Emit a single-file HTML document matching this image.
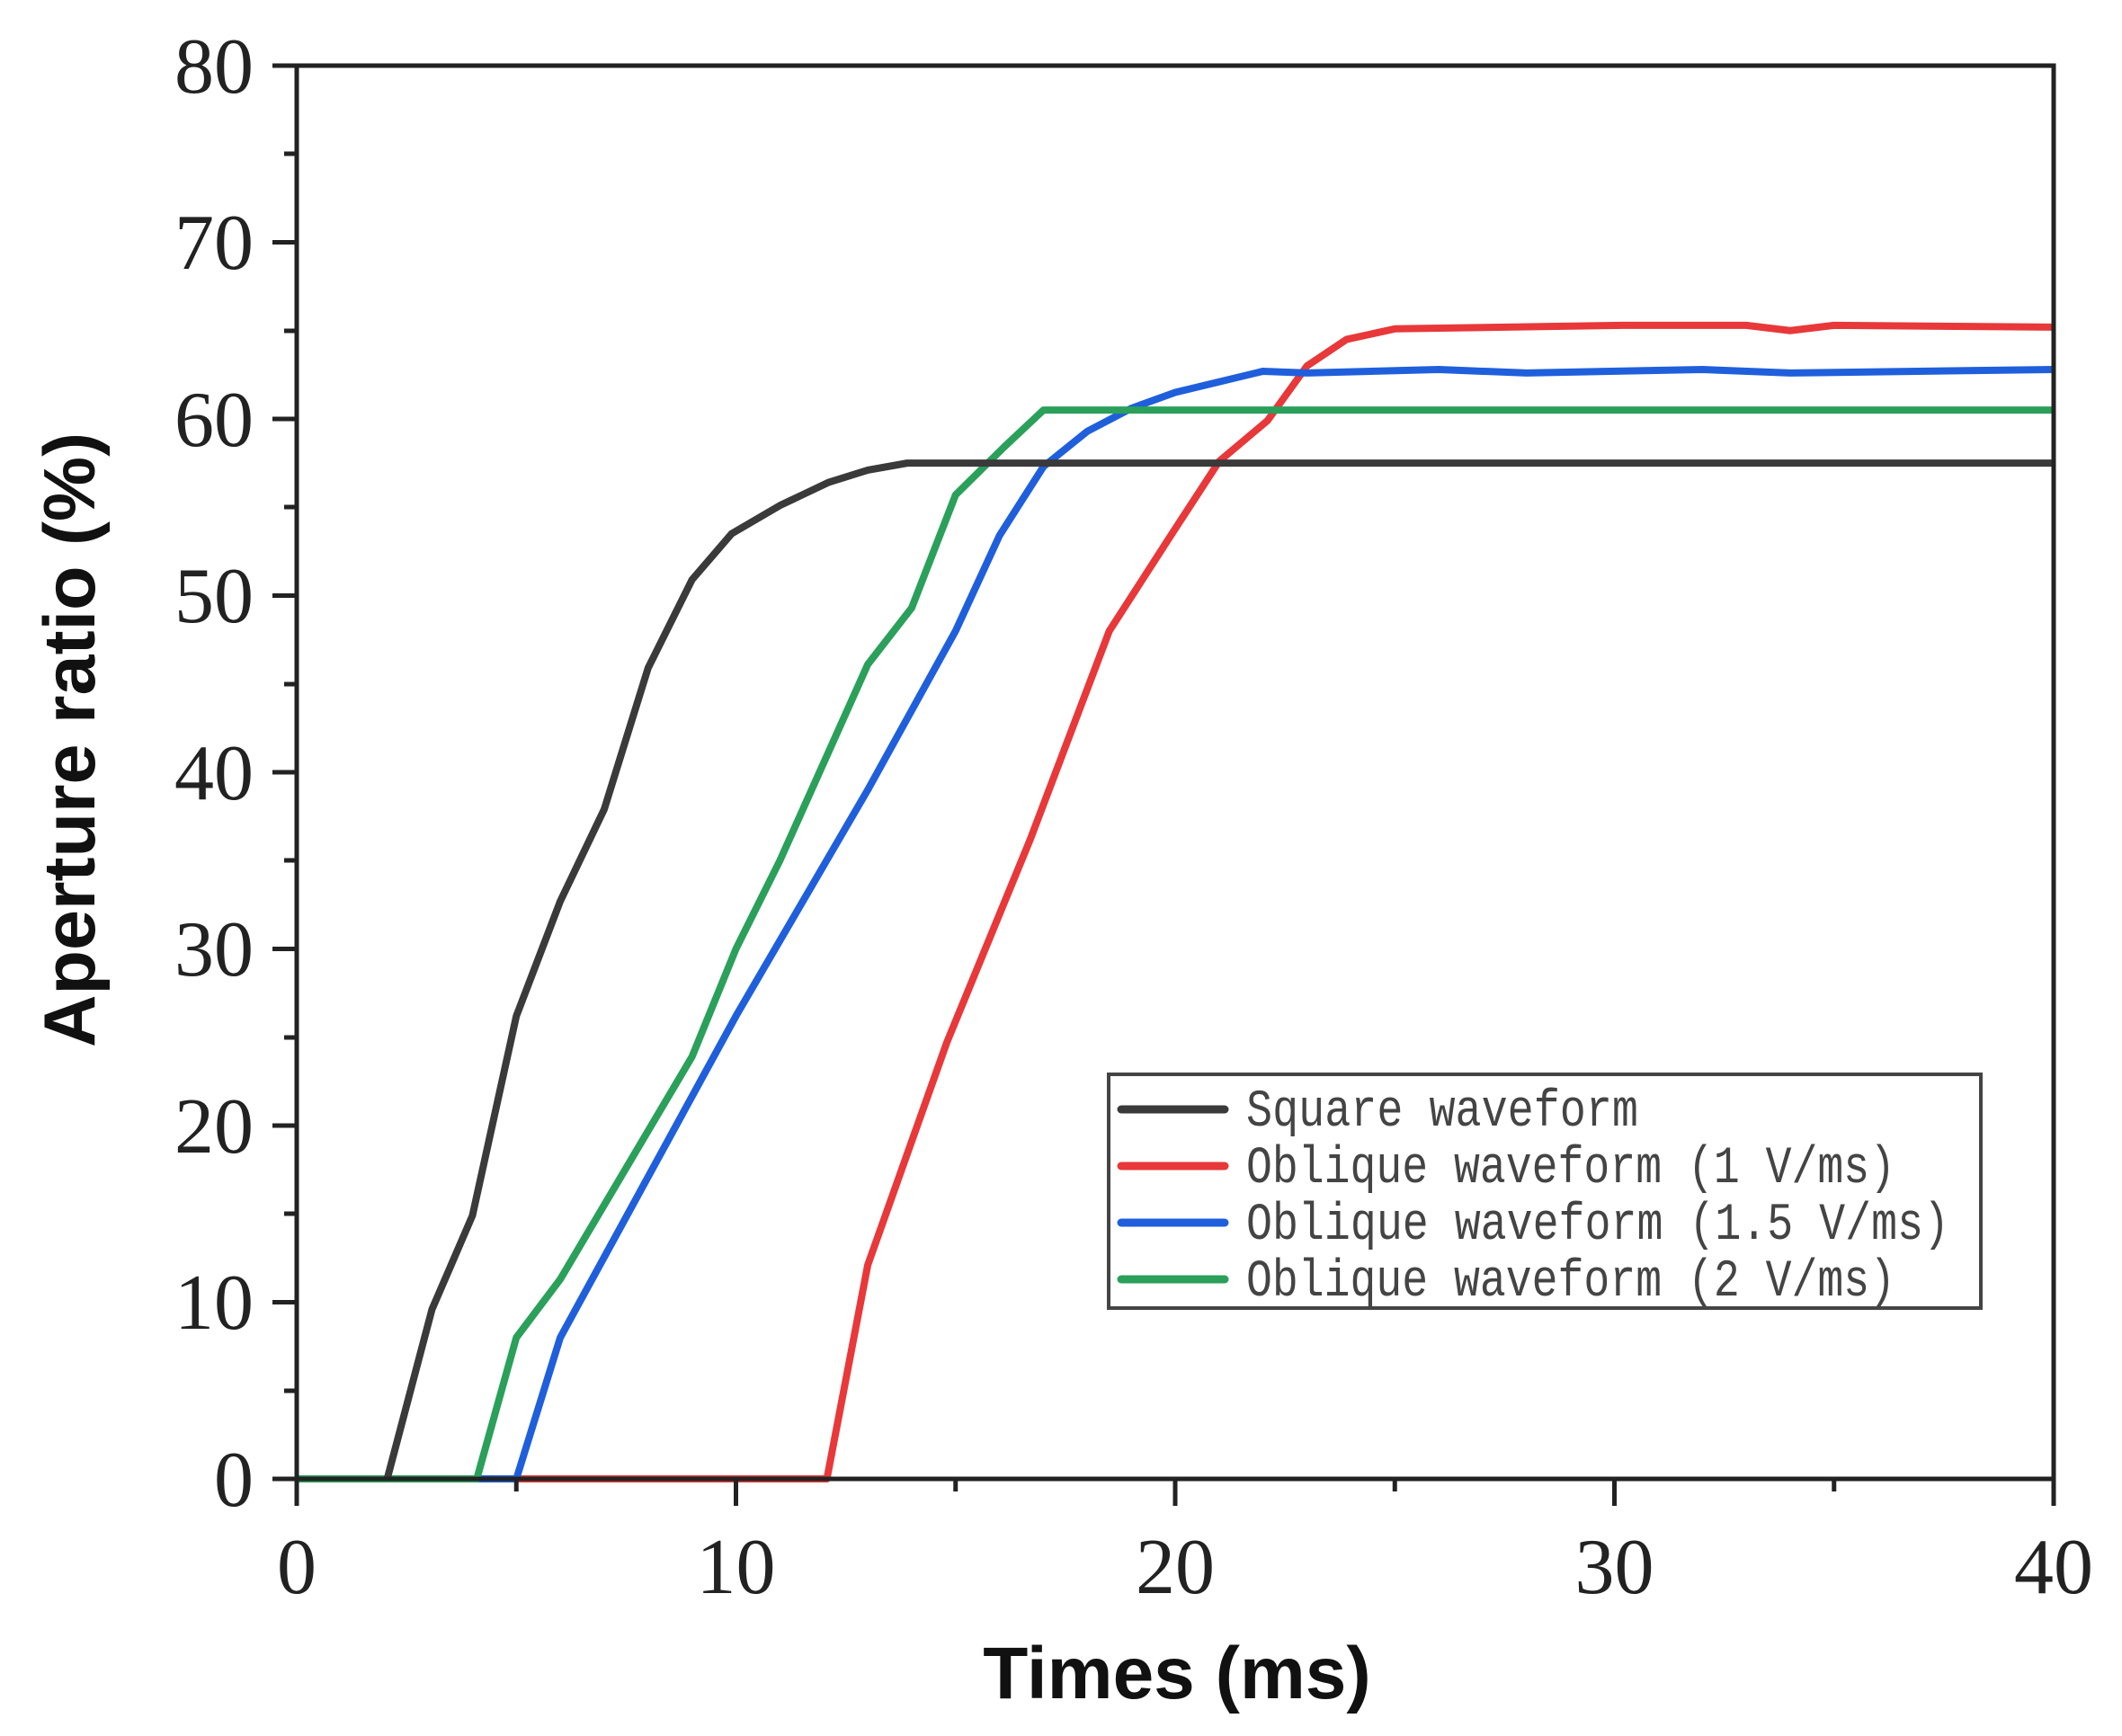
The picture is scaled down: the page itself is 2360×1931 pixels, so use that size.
<!DOCTYPE html>
<html><head><meta charset="utf-8"><style>
html,body{margin:0;padding:0;background:#fff;}
svg{display:block;}
</style></head><body>
<svg width="2360" height="1931" viewBox="0 0 2360 1931" xmlns="http://www.w3.org/2000/svg">
<rect width="2360" height="1931" fill="#fff"/>
<g transform="translate(330,1645) scale(48.85,-19.65)" fill="none" stroke-width="8" stroke-linejoin="round">
<polyline vector-effect="non-scaling-stroke" stroke="#e8383a" points="0,0 12.07,0 13,12.1 14.8,24.7 16.7,36.2 18.5,48 19.9,53.4 21,57.6 22.1,59.9 23,63 23.9,64.5 25,65.1 30.2,65.3 33,65.3 34,65 35,65.3 40,65.2"/>
<polyline vector-effect="non-scaling-stroke" stroke="#1f5fdc" points="0,0 5,0 6,8 10,26.2 13,39 15,48 16,53.4 17,57.3 18,59.3 19,60.6 20,61.5 22,62.7 23,62.6 26,62.8 28,62.6 32,62.8 34,62.6 40,62.8"/>
<polyline vector-effect="non-scaling-stroke" stroke="#2aa05a" points="0,0 4.1,0 5,8 6,11.3 8,19.7 9,23.9 10,30 11,35 12.1,41.1 13,46.1 14,49.3 15,55.7 16.1,58.4 17,60.5 40,60.5"/>
<polyline vector-effect="non-scaling-stroke" stroke="#3a3a3a" points="2.06,0 3.08,9.6 4,14.9 5,26.2 6,32.7 7,37.9 8,45.9 9,50.9 9.9,53.5 11,55.1 12.1,56.4 13,57.1 13.9,57.5 40,57.5"/>
</g>
<rect x="330" y="73" width="1954" height="1572" fill="none" stroke="#222" stroke-width="5"/>
<g stroke="#222" stroke-width="5">
<line x1="303" y1="73" x2="330" y2="73"/><line x1="303" y1="269.5" x2="330" y2="269.5"/><line x1="303" y1="466" x2="330" y2="466"/><line x1="303" y1="662.5" x2="330" y2="662.5"/><line x1="303" y1="859" x2="330" y2="859"/><line x1="303" y1="1055.5" x2="330" y2="1055.5"/><line x1="303" y1="1252" x2="330" y2="1252"/><line x1="303" y1="1448.5" x2="330" y2="1448.5"/><line x1="303" y1="1645" x2="330" y2="1645"/>
<line x1="316" y1="171" x2="330" y2="171"/><line x1="316" y1="368" x2="330" y2="368"/><line x1="316" y1="564" x2="330" y2="564"/><line x1="316" y1="761" x2="330" y2="761"/><line x1="316" y1="957" x2="330" y2="957"/><line x1="316" y1="1154" x2="330" y2="1154"/><line x1="316" y1="1350" x2="330" y2="1350"/><line x1="316" y1="1547" x2="330" y2="1547"/>
<line x1="330" y1="1645" x2="330" y2="1675"/><line x1="818.5" y1="1645" x2="818.5" y2="1675"/><line x1="1307" y1="1645" x2="1307" y2="1675"/><line x1="1795.5" y1="1645" x2="1795.5" y2="1675"/><line x1="2284" y1="1645" x2="2284" y2="1675"/>
<line x1="574.25" y1="1645" x2="574.25" y2="1659"/><line x1="1062.75" y1="1645" x2="1062.75" y2="1659"/><line x1="1551.25" y1="1645" x2="1551.25" y2="1659"/><line x1="2039.75" y1="1645" x2="2039.75" y2="1659"/>
</g>
<g font-family="'Liberation Serif',serif" font-size="88" fill="#222" text-anchor="end">
<text x="282" y="103">80</text><text x="282" y="299">70</text><text x="282" y="496">60</text><text x="282" y="692">50</text><text x="282" y="889">40</text><text x="282" y="1085">30</text><text x="282" y="1282">20</text><text x="282" y="1478">10</text><text x="282" y="1675">0</text>
</g>
<g font-family="'Liberation Serif',serif" font-size="88" fill="#222" text-anchor="middle">
<text x="330" y="1772">0</text><text x="818.5" y="1772">10</text><text x="1307" y="1772">20</text><text x="1795.5" y="1772">30</text><text x="2284" y="1772">40</text>
</g>
<text x="1309" y="1889" font-family="'Liberation Sans',sans-serif" font-weight="bold" font-size="82" text-anchor="middle" fill="#111">Times (ms)</text>
<text transform="translate(105,823) rotate(-90)" font-family="'Liberation Sans',sans-serif" font-weight="bold" font-size="81" text-anchor="middle" fill="#111">Aperture ratio (%)</text>
<rect x="1233" y="1195" width="970" height="260" fill="#fff" stroke="#444" stroke-width="4"/>
<g stroke-width="9" stroke-linecap="round">
<line x1="1247" y1="1234" x2="1362" y2="1234" stroke="#3a3a3a"/>
<line x1="1247" y1="1297" x2="1362" y2="1297" stroke="#e8383a"/>
<line x1="1247" y1="1360" x2="1362" y2="1360" stroke="#1f5fdc"/>
<line x1="1247" y1="1423" x2="1362" y2="1423" stroke="#2aa05a"/>
</g>
<g font-family="'Liberation Mono',monospace" font-size="58" fill="#444">
<text x="1386" y="1252" textLength="436" lengthAdjust="spacingAndGlyphs">Square waveform</text>
<text x="1386" y="1315" textLength="722" lengthAdjust="spacingAndGlyphs">Oblique waveform (1 V/ms)</text>
<text x="1386" y="1378" textLength="782" lengthAdjust="spacingAndGlyphs">Oblique waveform (1.5 V/ms)</text>
<text x="1386" y="1441" textLength="722" lengthAdjust="spacingAndGlyphs">Oblique waveform (2 V/ms)</text>
</g>
</svg>
</body></html>
